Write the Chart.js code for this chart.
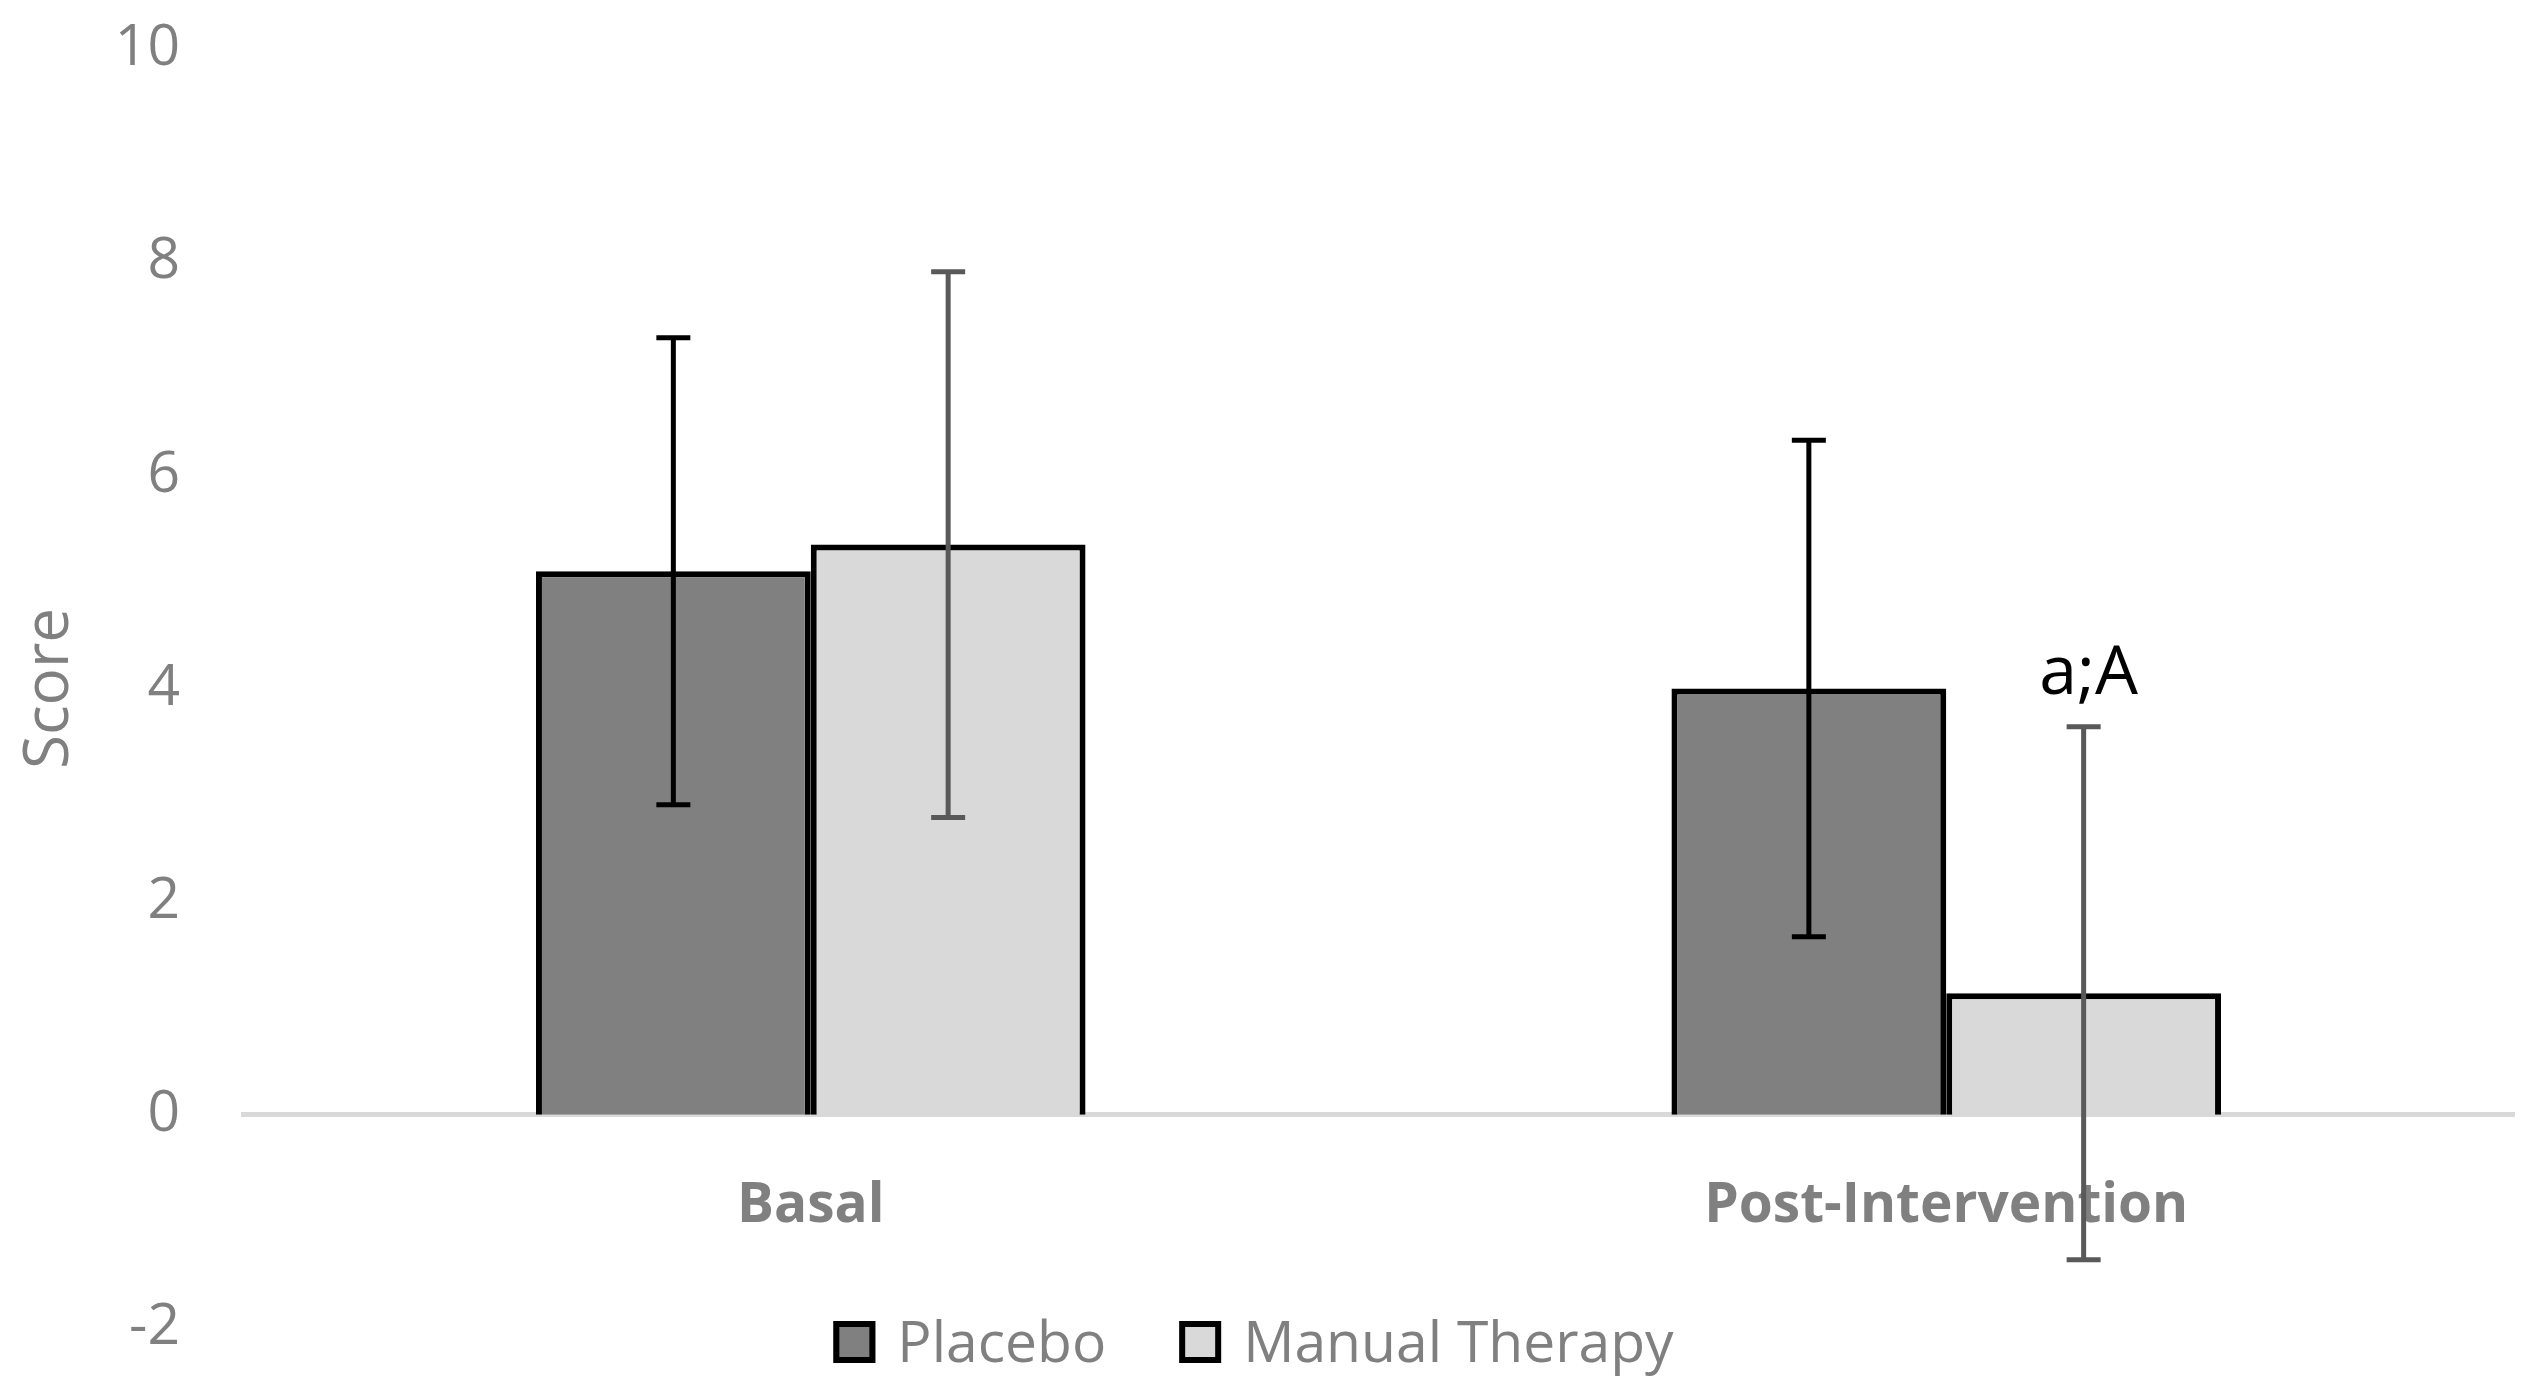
<!DOCTYPE html>
<html>
<head>
<meta charset="utf-8">
<script src="https://cdn.jsdelivr.net/npm/chart.js@4.4.1/dist/chart.umd.min.js"></script>
<style>
    html, body { margin: 0; padding: 0; background: #fff; }
</style>
</head>
<body>
<canvas id="scoreChart" width="2547" height="1398"></canvas>
<script>
// data
const categories = ['Basal', 'Post-Intervention'];
const seriesNames = ['Placebo', 'Manual Therapy'];
const placeboMean = [5.1, 4.0];
const placeboSd = [2.19, 2.33];
const manualMean = [5.35, 1.14];
const manualSd = [2.56, 2.5];
const manualMarks = ['', 'a;A'];
const yTicks = [-2, 0, 2, 4, 6, 8, 10];

const colors = {
    placebo: '#808080',
    manual: '#d9d9d9',
    border: '#000000',
    placeboErr: '#000000',
    manualErr: '#595959',
    text: '#808080',
    axis: '#d9d9d9'
};

const FONT = "'Open Sans', sans-serif";

// error bars + significance marks
const errorBars = {
    id: 'errorBars',
    afterDatasetsDraw(chart) {
        const { ctx } = chart;
        const y = chart.scales.y;
        chart.data.datasets.forEach((ds, i) => {
            const meta = chart.getDatasetMeta(i);
            meta.data.forEach((bar, j) => {
                const top = y.getPixelForValue(ds.data[j] + ds.errors[j]);
                const bottom = y.getPixelForValue(ds.data[j] - ds.errors[j]);
                ctx.save();
                ctx.strokeStyle = ds.errorColor;
                ctx.lineWidth = 5;
                ctx.beginPath();
                ctx.moveTo(bar.x, top);
                ctx.lineTo(bar.x, bottom);
                ctx.moveTo(bar.x - 17, top);
                ctx.lineTo(bar.x + 17, top);
                ctx.moveTo(bar.x - 17, bottom);
                ctx.lineTo(bar.x + 17, bottom);
                ctx.stroke();
                if (ds.marks && ds.marks[j]) {
                    ctx.fillStyle = '#000';
                    ctx.font = '68px ' + FONT;
                    ctx.textAlign = 'center';
                    ctx.textBaseline = 'alphabetic';
                    ctx.fillText(ds.marks[j], bar.x + 5, top - 33);
                }
                ctx.restore();
            });
        });
    }
};

// legend drawn over the bottom of the plot, like the original
const bottomLegend = {
    id: 'bottomLegend',
    afterDraw(chart) {
        const { ctx } = chart;
        const box = 42, boxGap = 22, itemGap = 73;
        const cy = 1342;
        ctx.save();
        ctx.font = '57px ' + FONT;
        const items = chart.data.datasets.map(ds => ({
            ds, w: box + boxGap + ctx.measureText(ds.label).width
        }));
        const total = items.reduce((s, it) => s + it.w, 0) + itemGap * (items.length - 1);
        let x = chart.width / 2 - 20 - total / 2;
        items.forEach(it => {
            ctx.fillStyle = it.ds.backgroundColor;
            ctx.fillRect(x, cy - box / 2, box, box);
            ctx.strokeStyle = '#000';
            ctx.lineWidth = 6;
            ctx.strokeRect(x + 3, cy - box / 2 + 3, box - 6, box - 6);
            ctx.fillStyle = colors.text;
            ctx.textAlign = 'left';
            ctx.textBaseline = 'alphabetic';
            ctx.fillText(it.ds.label, x + box + boxGap, cy + 20);
            x += it.w + itemGap;
        });
        ctx.restore();
    }
};

new Chart(document.getElementById('scoreChart'), {
    type: 'bar',
    data: {
        labels: categories,
        datasets: [{
            label: seriesNames[0],
            data: placeboMean,
            errors: placeboSd,
            errorColor: colors.placeboErr,
            backgroundColor: colors.placebo,
            borderColor: colors.border,
            borderWidth: 6
        }, {
            label: seriesNames[1],
            data: manualMean,
            errors: manualSd,
            errorColor: colors.manualErr,
            marks: manualMarks,
            backgroundColor: colors.manual,
            borderColor: colors.border,
            borderWidth: 6
        }]
    },
    options: {
        responsive: false,
        devicePixelRatio: 1,
        animation: false,
        categoryPercentage: 0.484,
        barPercentage: 1.0,
        layout: { padding: { top: 49, right: 33, bottom: 70, left: 0 } },
        plugins: {
            legend: { display: false },
            tooltip: { enabled: false }
        },
        scales: {
            x: {
                position: { y: 0 },
                grid: { display: false, drawTicks: false },
                border: { display: true, color: colors.axis, width: 5 },
                ticks: {
                    color: colors.text,
                    font: { family: FONT, size: 55, weight: 'bold' },
                    padding: 58
                },
                afterFit: (scale) => { scale.height = 0; }
            },
            y: {
                min: yTicks[0],
                max: yTicks[yTicks.length - 1],
                grid: { display: false, drawTicks: false },
                border: { display: false },
                ticks: {
                    stepSize: yTicks[1] - yTicks[0],
                    color: colors.text,
                    font: { family: FONT, size: 57 },
                    padding: 63
                },
                title: {
                    display: true,
                    text: 'Score',
                    color: colors.text,
                    font: { family: FONT, size: 62 },
                    padding: { top: 13, bottom: 0 }
                },
                afterFit: (scale) => {
                    scale.width = 243;
                    scale.paddingTop = 0;
                    scale.paddingBottom = 0;
                }
            }
        }
    },
    plugins: [errorBars, bottomLegend]
});
</script>
</body>
</html>
